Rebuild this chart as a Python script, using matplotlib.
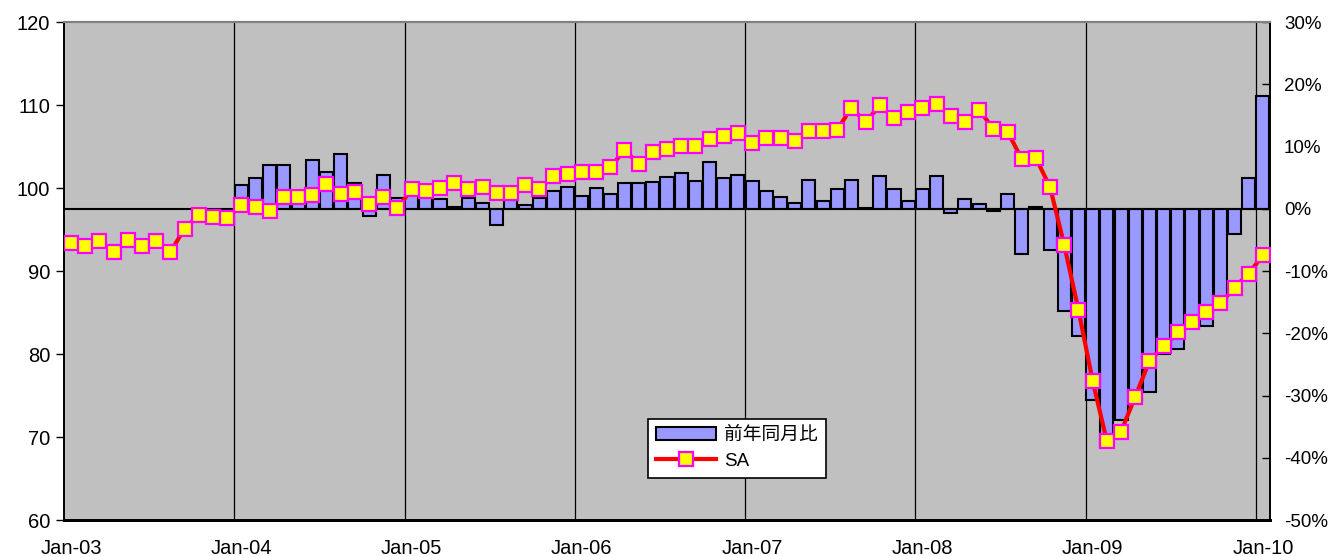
import numpy as np
import pandas as pd
import matplotlib
matplotlib.use('Agg')
import matplotlib.pyplot as plt
from matplotlib.ticker import FuncFormatter

plt.rcParams['font.family'] = ['Liberation Sans', 'Noto Sans CJK JP', 'DejaVu Sans']

#%% data (monthly, Jan-03 .. Jan-10)
months = pd.date_range('2003-01-01', '2010-01-01', freq='MS')

sa = [93.4, 93.0, 93.65, 92.3, 93.7, 93.0, 93.65, 92.3, 95.1, 96.7, 96.5, 96.35,
      97.95, 97.7, 97.2, 98.9, 98.9, 99.2, 100.45, 99.3, 99.5, 98.1, 98.95, 97.55,
      99.85, 99.7, 100.05, 100.6, 99.85, 100.1, 99.35, 99.45, 100.35, 99.85, 101.5, 101.7,
      101.97, 101.9, 102.5, 104.55, 102.95, 104.3, 104.75, 105.1, 105.1, 105.95, 106.3, 106.65,
      105.45, 106.05, 106.05, 105.65, 106.9, 106.9, 107.0, 109.7, 107.9, 110.0, 108.4, 109.1,
      109.6, 110.1, 108.7, 108.0, 109.4, 107.15, 106.8, 103.5, 103.6, 100.1, 93.1, 85.3,
      76.75, 69.5, 70.65, 74.85, 79.15, 80.95, 82.6, 83.9, 85.1, 86.1, 88.0, 89.7,
      91.9]

# year-on-year change in %, none for 2003
yoy = [np.nan] * 12 + \
      [3.8, 4.9, 7.1, 7.1, 2.0, 7.9, 5.9, 8.8, 4.1, -1.2, 5.4, 1.7,
       2.5, 2.3, 1.5, 0.3, 1.8, 1.0, -2.6, 1.4, 0.6, 1.8, 2.8, 3.5,
       2.05, 3.3, 2.3, 4.1, 4.2, 4.3, 5.05, 5.8, 4.5, 7.45, 5.0, 5.35,
       4.45, 2.85, 1.95, 0.97, 4.7, 1.3, 3.1, 4.6, 0.2, 5.3, 3.1, 1.3,
       3.1, 5.3, -0.7, 1.6, 0.8, -0.3, 2.3, -7.3, 0.3, -6.6, -16.5, -20.5,
       -30.7, -38.2, -33.9, -30.8, -29.4, -23.4, -22.6, -18.3, -18.8, -15.5, -4.1, 5.0,
       18.1]

labels = [m.strftime('%b-%y') for m in months]
x = np.arange(len(months))

#%% plot
fig = plt.figure(figsize=(13.3, 5.56), dpi=100)
ax2 = fig.add_axes([0.0481, 0.0647, 0.9068, 0.8957])  # bars, right axis
ax1 = fig.add_axes(ax2.get_position(), sharex=ax2)   # line, left axis

ax2.set_facecolor('#C0C0C0')
ax1.patch.set_visible(False)

# year gridlines at category boundaries
for i in range(12, len(months), 12):
    ax2.axvline(i - 0.5, color='black', lw=0.9, zorder=0.5)

ax2.bar(x, yoy, width=0.92, color='#9999FF', edgecolor='black', linewidth=1.5,
        zorder=2, label='前年同月比')
ax2.axhline(0, color='black', lw=1.5, zorder=2.5)

ax1.plot(x, sa, color='red', lw=3, marker='s', markersize=9.5,
         markerfacecolor='#FFFF00', markeredgecolor='#FF00FF', markeredgewidth=1.6,
         label='SA', zorder=3)

ax1.set_xlim(-0.5, len(months) - 0.5)
ax1.set_ylim(60, 120)
ax1.set_yticks(range(60, 121, 10))
ax2.set_ylim(-50, 30)
ax2.set_yticks(range(-50, 31, 10))
ax2.yaxis.set_major_formatter(FuncFormatter(lambda v, p: f'{v:.0f}%'))
ax2.yaxis.tick_right()
ax1.yaxis.tick_left()

ax1.set_xticks(x[::12])
ax1.set_xticklabels(labels[::12])
ax1.tick_params(axis='x', length=0, pad=14, labelsize=14.5)
ax1.tick_params(axis='y', direction='out', length=6, width=1, labelsize=14.5, pad=4)
ax2.tick_params(axis='y', direction='in', length=6, width=1, labelsize=13.5, pad=10)
ax2.tick_params(axis='x', length=0, labelbottom=False)

for a in (ax1, ax2):
    a.spines['top'].set_color('#808080')
    a.spines['top'].set_linewidth(1.5)
    a.spines['bottom'].set_linewidth(2)
    a.spines['left'].set_linewidth(1.2)
    a.spines['right'].set_linewidth(1.2)

h1, l1 = ax2.get_legend_handles_labels()
h2, l2 = ax1.get_legend_handles_labels()
leg = ax1.legend(h1 + h2, l1 + l2, loc='lower left', bbox_to_anchor=(0.484, 0.084),
                 fancybox=False, framealpha=1, edgecolor='black',
                 borderaxespad=0, handlelength=3.2, handletextpad=0.4,
                 borderpad=0.45, labelspacing=0.45,
                 prop={'family': ['Liberation Sans', 'Noto Sans CJK JP'], 'size': 13.5})
leg.get_frame().set_linewidth(1.2)

plt.savefig('out.png', dpi=100)
